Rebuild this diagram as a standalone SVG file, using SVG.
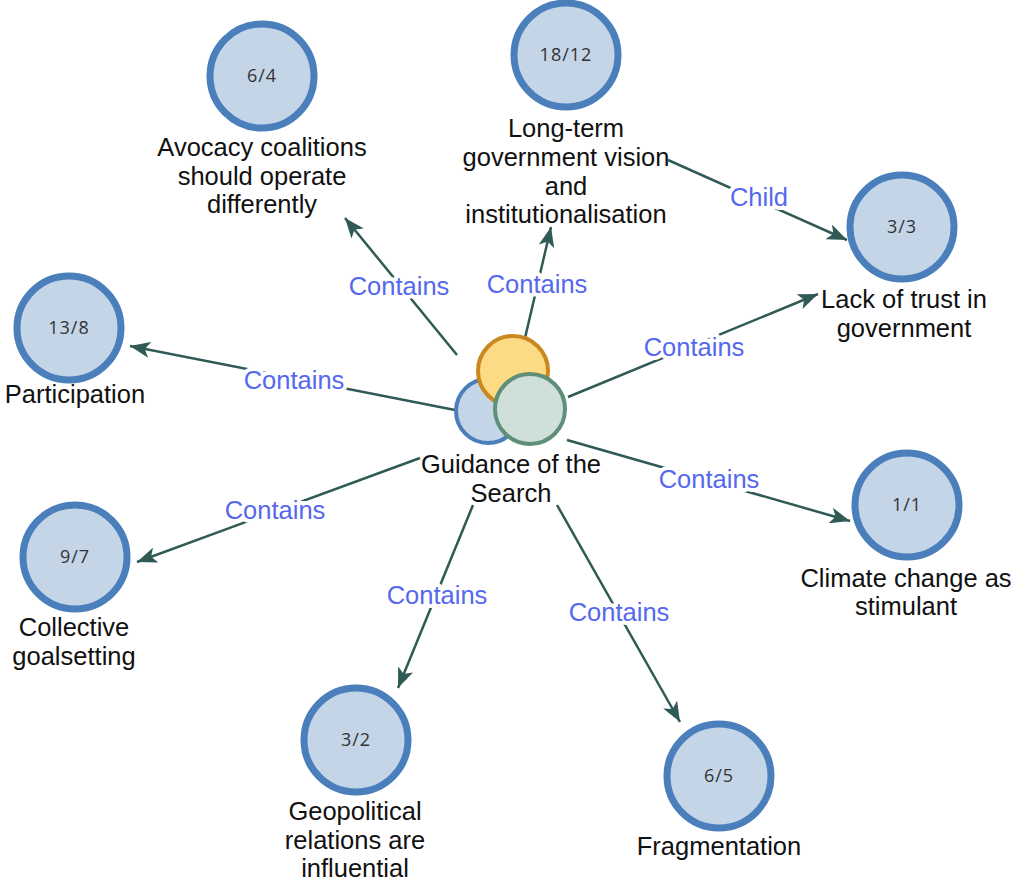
<svg xmlns="http://www.w3.org/2000/svg" width="1017" height="887" viewBox="0 0 1017 887">
  <defs>
    <style>
      .node circle { fill: #c4d5e8; stroke: #4a7fbb; stroke-width: 7; }
      .num { font-family: "Open Sans", "Liberation Sans", sans-serif; font-size: 18px; fill: #333; text-anchor: middle; letter-spacing: 1px; }
      .lbl { font-family: "Liberation Sans", Arial, sans-serif; font-size: 25.5px; fill: #111; text-anchor: middle; }
      .edge { stroke: #2f5a55; stroke-width: 2.5; fill: none; marker-end: url(#arrow); }
      .elbl { font-family: "Liberation Sans", Arial, sans-serif; font-size: 25.5px; fill: #5568ee; text-anchor: middle; stroke: #fff; stroke-width: 8; paint-order: stroke; stroke-linejoin: round; }
    </style>
    <marker id="arrow" markerUnits="userSpaceOnUse" markerWidth="22" markerHeight="16" refX="20" refY="8" orient="auto">
      <path d="M0,0 L20,8 L0,16 L5,8 z" fill="#2f5a55"/>
    </marker>
  </defs>
  <rect width="1017" height="887" fill="#fff"/>

  <!-- connectors -->
  <g id="connectors">
    <line class="edge" x1="457" y1="355" x2="345" y2="218"/>
    <line class="edge" x1="525" y1="338" x2="551" y2="227"/>
    <line class="edge" x1="568" y1="397" x2="818" y2="294"/>
    <line class="edge" x1="455" y1="410" x2="130" y2="346"/>
    <line class="edge" x1="567" y1="440" x2="850" y2="521"/>
    <line class="edge" x1="420" y1="458" x2="137" y2="562"/>
    <line class="edge" x1="473" y1="505" x2="398" y2="688"/>
    <line class="edge" x1="557" y1="505" x2="680" y2="722"/>
    <line class="edge" x1="668" y1="160" x2="847" y2="240"/>
    <text class="elbl" x="399" y="295">Contains</text>
    <text class="elbl" x="537" y="293">Contains</text>
    <text class="elbl" x="694" y="356">Contains</text>
    <text class="elbl" x="294" y="389">Contains</text>
    <text class="elbl" x="709" y="488">Contains</text>
    <text class="elbl" x="275" y="519">Contains</text>
    <text class="elbl" x="437" y="604">Contains</text>
    <text class="elbl" x="619" y="621">Contains</text>
    <text class="elbl" x="759" y="206">Child</text>
  </g>

  <!-- central node -->
  <g id="guidance">
    <circle cx="488" cy="411" r="32" fill="#c4d5e8" stroke="#4a7fbb" stroke-width="4"/>
    <circle cx="513" cy="371" r="35" fill="#fddb84" stroke="#c9891f" stroke-width="4"/>
    <circle cx="530" cy="409" r="35" fill="#cfe0da" stroke="#5f8f79" stroke-width="4"/>
    <text class="lbl" x="511" y="473">Guidance of the</text>
    <text class="lbl" x="511" y="502">Search</text>
  </g>

  <g id="n-avocacy" class="node">
    <circle cx="262" cy="76" r="52"/>
    <text class="num" x="262" y="82">6/4</text>
    <text class="lbl" x="262" y="156">Avocacy coalitions</text>
    <text class="lbl" x="262" y="185">should operate</text>
    <text class="lbl" x="262" y="213">differently</text>
  </g>

  <g id="n-longterm" class="node">
    <circle cx="566" cy="55" r="52"/>
    <text class="num" x="566" y="61">18/12</text>
    <text class="lbl" x="566" y="137">Long-term</text>
    <text class="lbl" x="566" y="166">government vision</text>
    <text class="lbl" x="566" y="195">and</text>
    <text class="lbl" x="566" y="223">institutionalisation</text>
  </g>

  <g id="n-trust" class="node">
    <circle cx="902" cy="227" r="52"/>
    <text class="num" x="902" y="233">3/3</text>
    <text class="lbl" x="904" y="308">Lack of trust in</text>
    <text class="lbl" x="904" y="337">government</text>
  </g>

  <g id="n-participation" class="node">
    <circle cx="69" cy="328" r="52"/>
    <text class="num" x="69" y="334">13/8</text>
    <text class="lbl" x="75" y="403">Participation</text>
  </g>

  <g id="n-climate" class="node">
    <circle cx="907" cy="505" r="52"/>
    <text class="num" x="907" y="511">1/1</text>
    <text class="lbl" x="906" y="587">Climate change as</text>
    <text class="lbl" x="906" y="615">stimulant</text>
  </g>

  <g id="n-collective" class="node">
    <circle cx="75" cy="557" r="52"/>
    <text class="num" x="75" y="563">9/7</text>
    <text class="lbl" x="74" y="636">Collective</text>
    <text class="lbl" x="74" y="665">goalsetting</text>
  </g>

  <g id="n-geopolitical" class="node">
    <circle cx="356" cy="740" r="52"/>
    <text class="num" x="356" y="746">3/2</text>
    <text class="lbl" x="355" y="820">Geopolitical</text>
    <text class="lbl" x="355" y="849">relations are</text>
    <text class="lbl" x="355" y="877">influential</text>
  </g>

  <g id="n-fragmentation" class="node">
    <circle cx="719" cy="776" r="52"/>
    <text class="num" x="719" y="782">6/5</text>
    <text class="lbl" x="719" y="855">Fragmentation</text>
  </g>
</svg>
